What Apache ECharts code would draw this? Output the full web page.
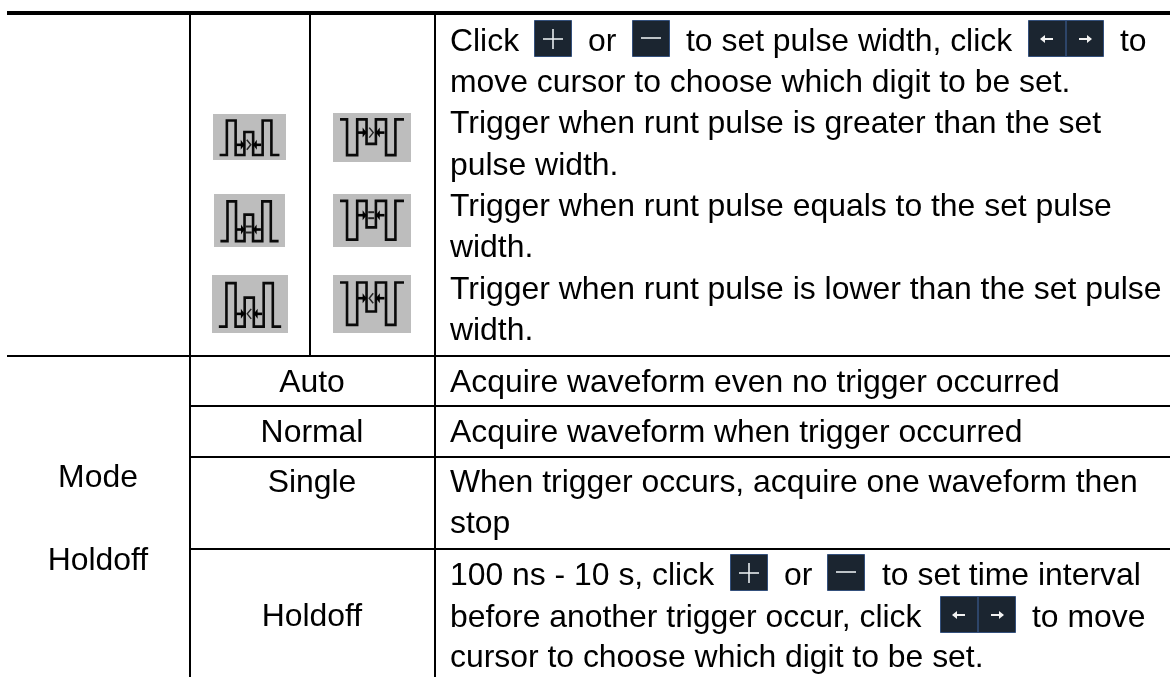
<!DOCTYPE html>
<html>
<head>
<meta charset="utf-8">
<title>Trigger table</title>
<style>
  html, body { margin: 0; padding: 0; background: #fff; }
  #chart-container { width: 1170px; height: 677px; }
</style>
<script src="https://cdn.jsdelivr.net/npm/echarts@6/dist/echarts.min.js"></script>
</head>
<body>
<div id="chart-container"></div>
<script>
// table content
const sectionLabels = ['Mode', 'Holdoff'];
const optionLabels = ['Auto', 'Normal', 'Single', 'Holdoff'];
const runtLines = [
  ['Click', 'or', 'to set pulse width, click', 'to'],
  ['move cursor to choose which digit to be set.'],
  ['Trigger when runt pulse is greater than the set'],
  ['pulse width.'],
  ['Trigger when runt pulse equals to the set pulse'],
  ['width.'],
  ['Trigger when runt pulse is lower than the set pulse'],
  ['width.']
];
const optionLines = [
  ['Acquire waveform even no trigger occurred'],
  ['Acquire waveform when trigger occurred'],
  ['When trigger occurs, acquire one waveform then'],
  ['stop'],
  ['100 ns - 10 s, click', 'or', 'to set time interval'],
  ['before another trigger occur, click', 'to move'],
  ['cursor to choose which digit to be set.']
];
const iconSymbols = ['>', '=', '<'];

// layout, all in page pixels
const FONT = '"Liberation Sans", Arial, sans-serif';
const FONT_SIZE = 31.9;
const COL_X = [190, 310, 435];
const ROW_Y = [356, 406, 457, 549];
const TEXT_X = 450;
const runtY = [42, 83, 124, 166, 207, 248, 290, 331];
const optionY = [383, 433, 483, 524, 576, 618, 658];
const segmentX = {
  0: [450, 588, 686, 1120],
  4: [450, 784, 882],
  5: [450, 1032]
};

// waveforms of the icons in a 100 x 100 box
const upPulse = [[9, 89], [19, 89], [19, 14], [31, 14], [31, 89], [43, 89], [43, 39], [55, 39], [55, 89], [68, 89], [68, 14], [80, 14], [80, 89], [91, 89]];
const downPulse = [[9, 13], [18, 13], [18, 86], [31, 86], [31, 13], [43, 13], [43, 63], [55, 63], [55, 13], [68, 13], [68, 86], [80, 86], [80, 13], [91, 13]];
const iconBoxes = [
  [213, 114, 73, 46, 0, 0], [333, 113, 78, 49, 1, 0],
  [214, 194, 71, 53, 0, 1], [333, 194, 78, 53, 1, 1],
  [212, 275, 76, 58, 0, 2], [333, 275, 78, 58, 1, 2]
];
const plusButtons = [[534, 20], [730, 554]];
const minusButtons = [[632, 20], [827, 554]];
const arrowButtons = [[1028, 20], [940, 596]];

const graphics = [];

function addLine(x1, y1, x2, y2, width, color) {
  graphics.push({
    type: 'line',
    silent: true,
    shape: { x1: x1, y1: y1, x2: x2, y2: y2 },
    style: { stroke: color || '#000', lineWidth: width }
  });
}

function addText(text, x, y, align) {
  graphics.push({
    type: 'text',
    silent: true,
    x: x,
    y: y,
    style: {
      text: text,
      fill: '#000',
      font: FONT_SIZE + 'px ' + FONT,
      textAlign: align || 'left',
      textVerticalAlign: 'middle'
    }
  });
}

function addIcon(box) {
  const bx = box[0], by = box[1], bw = box[2], bh = box[3];
  const up = box[4] === 0;
  const px = (u) => bx + u * bw / 100;
  const py = (v) => by + v * bh / 100;
  graphics.push({
    type: 'rect', silent: true,
    shape: { x: bx, y: by, width: bw, height: bh },
    style: { fill: '#bdbdbd' }
  });
  graphics.push({
    type: 'polyline', silent: true,
    shape: { points: (up ? upPulse : downPulse).map((p) => [px(p[0]), py(p[1])]) },
    style: { stroke: '#0a0a0a', lineWidth: 2.6, fill: null }
  });
  // arrows pointing at the narrow pulse
  const my = py(up ? 67 : 40);
  addLine(px(32), my, px(43), my, 2.6);
  addLine(px(55), my, px(66), my, 2.6);
  graphics.push({
    type: 'polygon', silent: true,
    shape: { points: [[px(43), my], [px(38), my - 5], [px(38), my + 5]] },
    style: { fill: '#000' }
  });
  graphics.push({
    type: 'polygon', silent: true,
    shape: { points: [[px(55), my], [px(60), my - 5], [px(60), my + 5]] },
    style: { fill: '#000' }
  });
  const sym = iconSymbols[box[5]];
  const cx = px(49);
  if (sym === '=') {
    addLine(cx - 3, my - 3, cx + 3, my - 3, 2, '#222');
    addLine(cx - 3, my + 3, cx + 3, my + 3, 2, '#222');
  } else {
    const d = sym === '>' ? 1 : -1;
    graphics.push({
      type: 'polyline', silent: true,
      shape: { points: [[cx - 2 * d, my - 5], [cx + 2 * d, my], [cx - 2 * d, my + 5]] },
      style: { stroke: '#222', lineWidth: 1.5, fill: null }
    });
  }
}

function addButton(x, y, w) {
  graphics.push({
    type: 'rect', silent: true,
    shape: { x: x + 0.5, y: y + 0.5, width: w - 1, height: 36 },
    style: { fill: '#1b2530', stroke: '#34507c', lineWidth: 1 }
  });
}

function addPlus(pos) {
  addButton(pos[0], pos[1], 38);
  addLine(pos[0] + 9, pos[1] + 19, pos[0] + 29, pos[1] + 19, 1.6, '#e8ecef');
  addLine(pos[0] + 19, pos[1] + 9, pos[0] + 19, pos[1] + 29, 1.6, '#e8ecef');
}

function addMinus(pos) {
  addButton(pos[0], pos[1], 38);
  addLine(pos[0] + 9, pos[1] + 18, pos[0] + 29, pos[1] + 18, 1.6, '#e8ecef');
}

function addArrow(x, y, d) {
  addLine(x - 6, y, x + 6, y, 2, '#f2f2f2');
  graphics.push({
    type: 'polygon', silent: true,
    shape: { points: [[x + 7 * d, y], [x + 2 * d, y - 4], [x + 2 * d, y + 4]] },
    style: { fill: '#f2f2f2' }
  });
}

function addArrows(pos) {
  addButton(pos[0], pos[1], 76);
  addLine(pos[0] + 38, pos[1], pos[0] + 38, pos[1] + 37, 1.5, '#34507c');
  addArrow(pos[0] + 19, pos[1] + 19, -1);
  addArrow(pos[0] + 57, pos[1] + 19, 1);
}

// rules
addLine(7, 13, 1170, 13, 4);
ROW_Y.forEach((y, i) => {
  addLine(i === 0 ? 7 : COL_X[0], y, 1170, y, 2);
});
addLine(COL_X[0], 13, COL_X[0], 677, 2);
addLine(COL_X[1], 13, COL_X[1], ROW_Y[0], 2);
addLine(COL_X[2], 13, COL_X[2], 677, 2);

iconBoxes.forEach(addIcon);
plusButtons.forEach(addPlus);
minusButtons.forEach(addMinus);
arrowButtons.forEach(addArrows);

// left and middle columns
addText(sectionLabels[0], 98, 478, 'center');
addText(sectionLabels[1], 98, 561, 'center');
const optionLabelY = [383, 433, 483, 617];
optionLabels.forEach((label, i) => addText(label, 312, optionLabelY[i], 'center'));

// description column
runtLines.forEach((segs, i) => {
  segs.forEach((s, j) => addText(s, i === 0 ? segmentX[0][j] : TEXT_X, runtY[i]));
});
optionLines.forEach((segs, i) => {
  segs.forEach((s, j) => addText(s, segmentX[i] ? segmentX[i][j] : TEXT_X, optionY[i]));
});

var dom = document.getElementById('chart-container');
var myChart = echarts.init(dom, null, { renderer: 'canvas' });
myChart.setOption({
  animation: false,
  backgroundColor: '#fff',
  graphic: { elements: graphics }
});
</script>
</body>
</html>
